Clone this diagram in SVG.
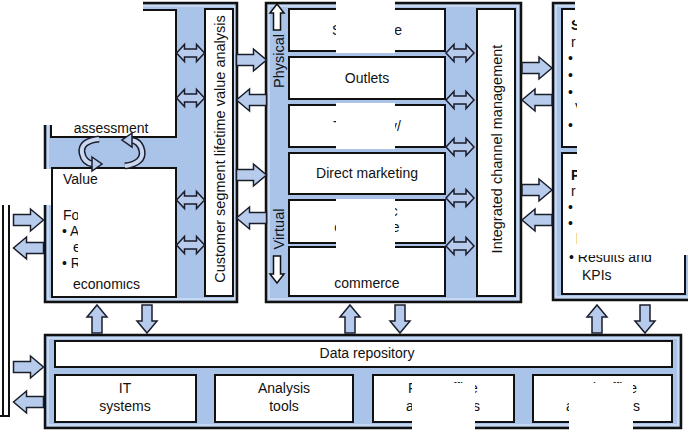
<svg xmlns="http://www.w3.org/2000/svg" width="688" height="432" viewBox="0 0 688 432">
<style>
.panel{fill:#a9c3e9;stroke:#111;stroke-width:2.5}
.inner{fill:none;stroke:#e6edf8;stroke-width:1}
.box{fill:#fff;stroke:#111;stroke-width:2}
.t{font-family:"Liberation Sans",Arial,sans-serif;font-size:14px;fill:#111}
.b{font-weight:bold}
.v{font-size:14.5px}
.arr{fill:#b7cced;stroke:#1b1d2b;stroke-width:1.5;stroke-linejoin:miter}
.wa{fill:#fff;stroke:#111;stroke-width:1.5}
.mask{fill:#fff}
.ln{stroke:#111;stroke-width:2;fill:none}
</style>
<defs>
<path id="dbl" d="M-14,0 L-6,-8.5 L-6,-4 L6,-4 L6,-8.5 L14,0 L6,8.5 L6,4 L-6,4 L-6,8.5 Z"/>
<path id="ra" d="M-15,-5.5 L2,-5.5 L2,-11 L15,0 L2,11 L2,5.5 L-15,5.5 Z"/>
<path id="ua" d="M0,-14 L10,-2 L5,-2 L5,14 L-5,14 L-5,-2 L-10,-2 Z"/>
</defs>
<rect width="688" height="432" fill="#fff"/>

<g id="outside-left">
<line class="ln" x1="3" y1="205" x2="3" y2="416"/>
<line class="ln" x1="9" y1="205" x2="9" y2="416"/>
<line class="ln" x1="0" y1="416" x2="10" y2="416"/>
</g>

<g id="left-panel">
<rect class="panel" x="45" y="3" width="192" height="299"/>
<rect class="inner" x="48" y="6" width="186" height="293"/>
</g>
<g id="strategy-box">
<rect class="box" x="51" y="10" width="125" height="127"/>
<text class="t" x="111" y="133" text-anchor="middle">assessment</text>
</g>
<g id="value-box">
<rect class="box" x="52" y="168" width="124" height="129"/>
<text class="t" x="63" y="184">Value</text>
<text class="t" x="63" y="220">For</text>
<text class="t" x="62" y="236">• A</text>
<text class="t" x="73" y="252">e</text>
<text class="t" x="62" y="268">• R</text>
<text class="t" x="73" y="289">economics</text>
</g>
<g id="lifetime-box">
<rect class="box" x="205" y="9" width="28" height="287"/>
<text class="t v" transform="translate(225,149) rotate(-90)" text-anchor="middle">Customer segment lifetime value analysis</text>
</g>
<g id="cycle-arrows">
<path d="M99,139 Q80,141 82,153 Q84,163 93,164" fill="none" stroke="#1b1d2b" stroke-width="7"/>
<path d="M99,139 Q80,141 82,153 Q84,163 93,164" fill="none" stroke="#c9d8f0" stroke-width="4"/>
<polygon class="arr" points="92,157 102,164 92,171"/>
<path d="M125,166 Q144,163 142,151 Q140,141 131,140" fill="none" stroke="#1b1d2b" stroke-width="7"/>
<path d="M125,166 Q144,163 142,151 Q140,141 131,140" fill="none" stroke="#c9d8f0" stroke-width="4"/>
<polygon class="arr" points="132,133 122,140 132,147"/>
</g>

<g id="channel-panel">
<rect class="panel" x="266" y="3" width="255" height="299"/>
<rect class="inner" x="269" y="6" width="249" height="293"/>
<text class="t v" transform="translate(284,61) rotate(-90)" text-anchor="middle">Physical</text>
<path class="wa" d="M277,4 L284,13 L280.5,13 L280.5,30 L273.5,30 L273.5,13 L270,13 Z"/>
<text class="t v" transform="translate(284,229) rotate(-90)" text-anchor="middle">Virtual</text>
<path class="wa" d="M277,283 L284,274 L280.5,274 L280.5,256 L273.5,256 L273.5,274 L270,274 Z"/>
</g>
<g id="sales-force"><rect class="box" x="289" y="9" width="156" height="42"/><text class="t" x="367" y="35" text-anchor="middle">Sales force</text></g>
<g id="outlets"><rect class="box" x="289" y="57" width="156" height="42"/><text class="t" x="367" y="83" text-anchor="middle">Outlets</text></g>
<g id="telephony"><rect class="box" x="289" y="105" width="156" height="42"/><text class="t" x="367" y="131" text-anchor="middle">Telephony/</text></g>
<g id="direct-marketing"><rect class="box" x="289" y="153" width="156" height="41"/><text class="t" x="367" y="178" text-anchor="middle">Direct marketing</text></g>
<g id="e-commerce"><rect class="box" x="289" y="200" width="156" height="43"/><text class="t" x="367" y="216" text-anchor="middle">Electronic</text><text class="t" x="367" y="232" text-anchor="middle">commerce</text></g>
<g id="m-commerce"><rect class="box" x="289" y="247" width="156" height="49"/><text class="t" x="367" y="288" text-anchor="middle">commerce</text></g>
<g id="icm-box">
<rect class="box" x="477" y="9" width="38" height="287"/>
<text class="t v" transform="translate(502,149) rotate(-90)" text-anchor="middle">Integrated channel management</text>
</g>

<g id="performance-panel">
<rect class="panel" x="553" y="3" width="150" height="297"/>
<rect class="inner" x="556" y="6" width="144" height="291"/>
</g>
<g id="shareholder-box">
<rect class="box" x="562" y="9" width="123" height="138"/>
<text class="t b" x="571" y="30">S</text>
<text class="t" x="571" y="47">r</text>
<text class="t" x="568" y="63">• E</text>
<text class="t" x="568" y="80">• C</text>
<text class="t" x="568" y="97">• S</text>
<text class="t" x="575" y="113">V</text>
<text class="t" x="568" y="130">• C</text>
</g>
<g id="monitoring-box">
<rect class="box" x="562" y="153" width="123" height="141"/>
<text class="t b" x="571" y="180">P</text>
<text class="t" x="571" y="196">r</text>
<text class="t" x="568" y="212">• S</text>
<text class="t" x="568" y="228">• M</text>
<text class="t" x="576" y="244">l</text>
<text class="t" x="569" y="262">• Results and</text>
<text class="t" x="582" y="280">KPIs</text>
</g>

<g id="information-panel">
<rect class="panel" x="45" y="335" width="636" height="93"/>
<rect class="inner" x="48" y="338" width="630" height="87"/>
</g>
<g id="data-repository"><rect class="box" x="55" y="341" width="617" height="26"/><text class="t" x="367" y="358" text-anchor="middle">Data repository</text></g>
<g id="it-systems"><rect class="box" x="55" y="375" width="141" height="47"/><text class="t" x="125" y="393" text-anchor="middle">IT</text><text class="t" x="125" y="411" text-anchor="middle">systems</text></g>
<g id="analysis-tools"><rect class="box" x="215" y="375" width="138" height="47"/><text class="t" x="284" y="393" text-anchor="middle">Analysis</text><text class="t" x="284" y="411" text-anchor="middle">tools</text></g>
<g id="front-office"><rect class="box" x="373" y="375" width="141" height="47"/><text class="t" x="443" y="393" text-anchor="middle">Front office</text><text class="t" x="443" y="411" text-anchor="middle">applications</text></g>
<g id="back-office"><rect class="box" x="533" y="375" width="139" height="47"/><text class="t" x="603" y="393" text-anchor="middle">Back office</text><text class="t" x="603" y="411" text-anchor="middle">applications</text></g>

<g id="connectors">
<use href="#dbl" class="arr" transform="translate(190.5,53)"/>
<use href="#dbl" class="arr" transform="translate(190.5,98)"/>
<use href="#dbl" class="arr" transform="translate(190.5,200)"/>
<use href="#dbl" class="arr" transform="translate(190.5,245)"/>
<use href="#dbl" class="arr" transform="translate(460,53)"/>
<use href="#dbl" class="arr" transform="translate(460,100)"/>
<use href="#dbl" class="arr" transform="translate(460,147)"/>
<use href="#dbl" class="arr" transform="translate(460,198)"/>
<use href="#dbl" class="arr" transform="translate(460,246)"/>
<use href="#ra" class="arr" transform="translate(251.5,60)"/>
<use href="#ra" class="arr" transform="translate(251.5,100) scale(-1,1)"/>
<use href="#ra" class="arr" transform="translate(251.5,175)"/>
<use href="#ra" class="arr" transform="translate(251.5,218) scale(-1,1)"/>
<use href="#ra" class="arr" transform="translate(537,68)"/>
<use href="#ra" class="arr" transform="translate(537,100) scale(-1,1)"/>
<use href="#ra" class="arr" transform="translate(537,190)"/>
<use href="#ra" class="arr" transform="translate(537,220) scale(-1,1)"/>
<use href="#ra" class="arr" transform="translate(28.5,220)"/>
<use href="#ra" class="arr" transform="translate(28.5,248) scale(-1,1)"/>
<use href="#ra" class="arr" transform="translate(28.5,367)"/>
<use href="#ra" class="arr" transform="translate(28.5,402) scale(-1,1)"/>
<use href="#ua" class="arr" transform="translate(97,319)"/>
<use href="#ua" class="arr" transform="translate(147,319) scale(1,-1)"/>
<use href="#ua" class="arr" transform="translate(350,319)"/>
<use href="#ua" class="arr" transform="translate(400,319) scale(1,-1)"/>
<use href="#ua" class="arr" transform="translate(597,319)"/>
<use href="#ua" class="arr" transform="translate(645,319) scale(1,-1)"/>
</g>

<g id="masks">
<rect class="mask" x="0" y="0" width="143" height="125"/>
<rect class="mask" x="0" y="169" width="51" height="36"/>
<rect class="mask" x="78" y="187" width="65" height="93"/>
<rect class="mask" x="336" y="0" width="59" height="53"/>
<rect class="mask" x="336" y="103" width="59" height="46"/>
<rect class="mask" x="336" y="199" width="59" height="80"/>
<rect class="mask" x="575" y="0" width="113" height="22"/>
<rect class="mask" x="577" y="22" width="111" height="233"/>
<rect class="mask" x="412" y="383" width="63" height="49"/>
<rect class="mask" x="569" y="383" width="64" height="49"/>
</g>
</svg>
